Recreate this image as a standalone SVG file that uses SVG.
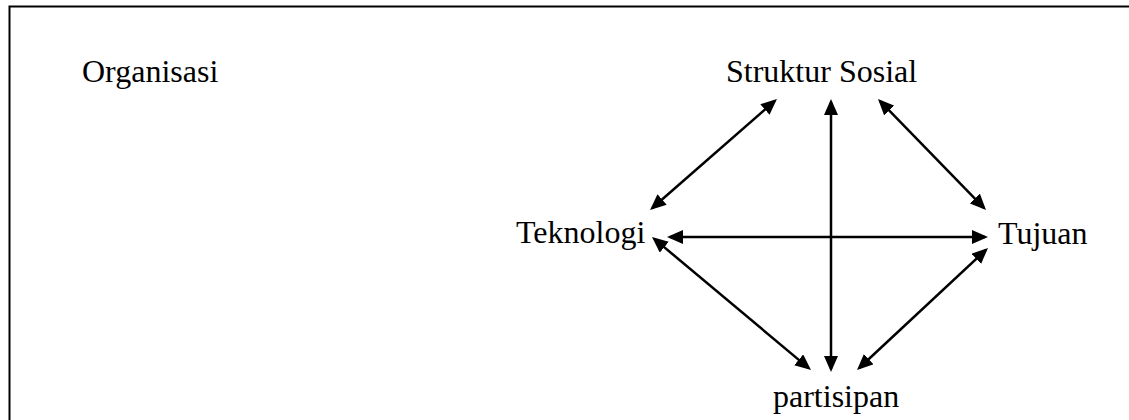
<svg xmlns="http://www.w3.org/2000/svg" width="1129" height="420" viewBox="0 0 1129 420">
<style>
.lbl{font-family:"Liberation Serif","Times New Roman",serif;font-size:32px;fill:#000}
.c{stroke:#000;stroke-width:2.5;fill:none;marker-start:url(#ah);marker-end:url(#ah)}
</style>
<defs>
<marker id="ah" markerUnits="userSpaceOnUse" markerWidth="17" markerHeight="15" refX="13" refY="7" orient="auto-start-reverse" viewBox="0 0 17 15">
<path d="M0,0 L16,7 L0,14 z" fill="#000"/>
</marker>
</defs>
<rect x="0" y="0" width="1129" height="420" fill="#fff"/>
<rect x="9.5" y="6.5" width="1200" height="500" fill="none" stroke="#000" stroke-width="2"/>
<g id="organisasi"><text class="lbl" x="82" y="82">Organisasi</text></g>
<g id="struktur-sosial"><text class="lbl" x="726" y="82">Struktur Sosial</text></g>
<g id="teknologi"><text class="lbl" x="516" y="243">Teknologi</text></g>
<g id="tujuan"><text class="lbl" x="998" y="244">Tujuan</text></g>
<g id="partisipan"><text class="lbl" x="773" y="407">partisipan</text></g>
<g id="connectors">
<path class="c" d="M831,102 L831,369"/>
<path class="c" d="M670,237 L985,237"/>
<path class="c" d="M774.7,101 L652.3,208"/>
<path class="c" d="M880.1,101.2 L983.9,207.8"/>
<path class="c" d="M654.3,238.9 L808.7,368.1"/>
<path class="c" d="M985.8,250 L859.2,368"/>
</g>
</svg>
